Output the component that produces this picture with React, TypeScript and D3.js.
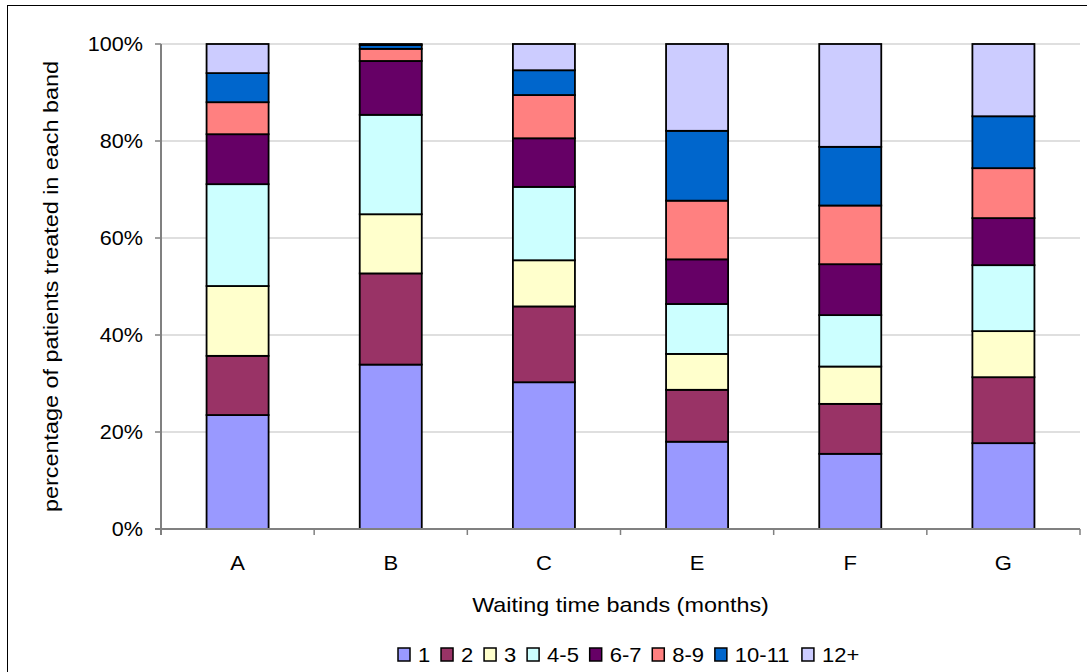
import React from "react";
import * as d3 from "d3";

const categories = ["A", "B", "C", "E", "F", "G"];
const seriesNames = ["1", "2", "3", "4-5", "6-7", "8-9", "10-11", "12+"];
const seriesColors = ["#9999FF", "#993366", "#FFFFCC", "#CCFFFF", "#660066", "#FF8080", "#0066CC", "#CCCCFF"];
const s1 = [23.5, 33.9, 30.2, 18.0, 15.5, 17.7];
const s2 = [12.2, 18.8, 15.6, 10.7, 10.3, 13.6];
const s3 = [14.4, 12.2, 9.5, 7.4, 7.7, 9.5];
const s45 = [21.0, 20.5, 15.1, 10.3, 10.6, 13.6];
const s67 = [10.3, 11.1, 10.0, 9.2, 10.5, 9.7];
const s89 = [6.6, 2.5, 8.9, 12.1, 12.1, 10.3];
const s1011 = [6.0, 0.8, 5.1, 14.4, 12.1, 10.7];
const s12 = [6.0, 0.2, 5.4, 17.9, 21.2, 14.9];
const yTicks = [0, 20, 40, 60, 80, 100];

const W = 1087;
const H = 672;
const FONT = "'Liberation Sans', Arial, sans-serif";

function T({ x, y, sx = 1.1, rot = 0, anchor = "start", size = 20, children }: any) {
  return (
    <text
      transform={`translate(${x},${y}) rotate(${rot}) scale(${sx},1)`}
      textAnchor={anchor}
      fontSize={size}
      fill="#000"
    >
      {children}
    </text>
  );
}

export default function App() {
  const series = [s1, s2, s3, s45, s67, s89, s1011, s12];
  const rows = categories.map((c, i) => {
    const r: any = { cat: c };
    seriesNames.forEach((n, k) => (r[n] = series[k][i]));
    return r;
  });
  const stacked = d3.stack<any>().keys(seriesNames).offset(d3.stackOffsetExpand)(rows);

  const left = 161, right = 1080, top = 44, bottom = 529;
  const x = d3.scaleBand<string>().domain(categories).range([left, right]).paddingInner(0.595).paddingOuter(0.2975);
  const y = d3.scaleLinear().domain([0, 100]).range([bottom, top]);
  const step = x.step();
  const boundaries = d3.range(categories.length + 1).map((i) => left + i * step);

  // legend layout
  const legendFont = 20;
  const legendSx = 1.1;
  const approxW = (t: string) => {
    let w = 0;
    for (const ch of t) w += ch === "-" ? 0.333 : ch === "+" ? 0.584 : 0.556;
    return w * legendFont * legendSx;
  };
  let lx = 398;
  const legendItems = seriesNames.map((n, i) => {
    const item = { n, i, x: lx };
    lx += 12 + 8 + approxW(n) + 10.8;
    return item;
  });

  return (
    <div style={{ position: "absolute", left: 0, top: 0 }}>
      <svg width={W} height={H} style={{ display: "block", fontFamily: FONT }}>
        <rect x={0} y={0} width={W} height={H} fill="#fff" />
        <rect x={7.5} y={5.5} width={1100} height={700} fill="#fff" stroke="#000" strokeWidth={1} />
        {yTicks.map((t) => (
          <line key={"g" + t} x1={left} x2={right} y1={y(t)} y2={y(t)} stroke="#c0c0c0" strokeWidth={1.2} />
        ))}
        {stacked.map((layer, k) =>
          layer.map((d, i) => (
            <rect
              key={k + "-" + i}
              x={x(categories[i])}
              width={x.bandwidth()}
              y={y(d[1] * 100)}
              height={y(d[0] * 100) - y(d[1] * 100)}
              fill={seriesColors[k]}
              stroke="#000"
              strokeWidth={1.8}
            />
          ))
        )}
        <line x1={left} x2={left} y1={top} y2={bottom + 6} stroke="#808080" strokeWidth={2} />
        <line x1={left - 6} x2={right} y1={bottom} y2={bottom} stroke="#808080" strokeWidth={2} />
        {yTicks.map((t) => (
          <g key={"t" + t}>
            <line x1={left - 6} x2={left} y1={y(t)} y2={y(t)} stroke="#808080" strokeWidth={1.5} />
            <T x={left - 18} y={y(t) + 7} anchor="end" sx={1.08}>
              {t + "%"}
            </T>
          </g>
        ))}
        {boundaries.map((b, i) => (
          <line key={"xt" + i} x1={b} x2={b} y1={bottom} y2={bottom + 6} stroke="#808080" strokeWidth={1.5} />
        ))}
        {categories.map((c) => (
          <T key={"c" + c} x={(x(c) as number) + x.bandwidth() / 2} y={570} anchor="middle">
            {c}
          </T>
        ))}
        <T x={(left + right) / 2} y={612} anchor="middle" sx={1.17}>
          Waiting time bands (months)
        </T>
        <T x={58} y={(top + bottom) / 2} rot={-90} anchor="middle" sx={1.17}>
          percentage of patients treated in each band
        </T>
        {legendItems.map((it) => (
          <g key={"l" + it.n}>
            <rect x={it.x} y={648} width={12} height={13} fill={seriesColors[it.i]} stroke="#000" strokeWidth={1.5} />
            <T x={it.x + 20} y={662} sx={legendSx} size={legendFont}>
              {it.n}
            </T>
          </g>
        ))}
      </svg>
    </div>
  );
}
